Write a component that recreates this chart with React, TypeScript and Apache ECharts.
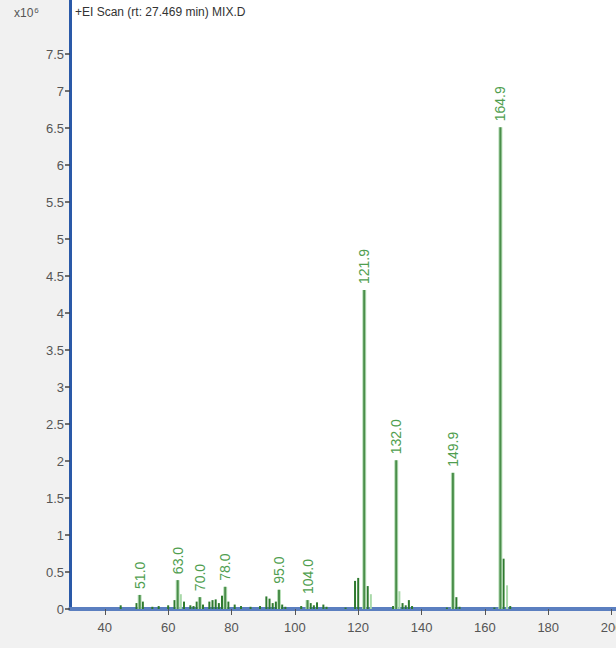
import React, { useEffect, useRef } from "react";
import * as echarts from "echarts";

// labelled peaks (m/z, intensity x10^6)
const labeledMz = [51.0, 63.0, 70.0, 78.0, 95.0, 104.0, 121.9, 132.0, 149.9, 164.9];
const labeledInt = [0.19, 0.39, 0.16, 0.30, 0.26, 0.12, 4.31, 2.01, 1.84, 6.51];

// minor dark peaks
const minorMz = [45, 50, 52, 55, 57, 60, 62, 65, 67, 68, 69, 71, 73, 74, 75, 76, 77, 79, 81, 83, 86, 89, 91, 92, 93, 94, 96, 97, 102, 105, 106, 107, 109, 110, 116, 119, 120, 123, 131, 134, 135, 136, 137, 148, 151, 152, 163, 165.9, 168];
const minorInt = [0.05, 0.08, 0.1, 0.03, 0.04, 0.05, 0.12, 0.1, 0.05, 0.04, 0.1, 0.06, 0.1, 0.12, 0.13, 0.08, 0.18, 0.1, 0.06, 0.04, 0.03, 0.04, 0.17, 0.14, 0.08, 0.1, 0.06, 0.03, 0.04, 0.08, 0.05, 0.09, 0.06, 0.03, 0.02, 0.38, 0.42, 0.31, 0.04, 0.08, 0.05, 0.12, 0.04, 0.02, 0.16, 0.03, 0.02, 0.68, 0.04];

// minor light peaks
const lightMz = [64, 124, 133, 167];
const lightInt = [0.2, 0.2, 0.24, 0.32];

// axis ticks
const xTicks = [40, 60, 80, 100, 120, 140, 160, 180, 200];
const yTicks = [0, 0.5, 1, 1.5, 2, 2.5, 3, 3.5, 4, 4.5, 5, 5.5, 6, 6.5, 7, 7.5];
const yMax = 8.23;

export default function App() {
  const ref = useRef<HTMLDivElement>(null);
  useEffect(() => {
    if (!ref.current) return;
    const chart = echarts.init(ref.current, null, { renderer: "svg" });

    const stem = (w: number, color: string) => (params: any, api: any) => {
      const x = api.value(0);
      const y = api.value(1);
      const top = api.coord([x, y]);
      const base = api.coord([x, 0]);
      return {
        type: "rect",
        shape: { x: top[0] - w / 2, y: top[1], width: w, height: base[1] - top[1] },
        style: { fill: color },
      };
    };

    const labeledRender = (params: any, api: any) => {
      const x = api.value(0);
      const y = api.value(1);
      const top = api.coord([x, y]);
      const base = api.coord([x, 0]);
      return {
        type: "group",
        children: [
          {
            type: "rect",
            shape: { x: top[0] - 2, y: top[1], width: 4, height: base[1] - top[1] },
            style: { fill: "#b9dfb9" },
          },
          {
            type: "rect",
            shape: { x: top[0] - 1, y: top[1], width: 2, height: base[1] - top[1] },
            style: { fill: "#4a8e4a" },
          },
          {
            type: "text",
            x: top[0],
            y: top[1] - 6,
            rotation: Math.PI / 2,
            style: {
              text: x.toFixed(1),
              fill: "#4f9e4f",
              font: "14px 'Liberation Sans', Arial, sans-serif",
              align: "left",
              verticalAlign: "middle",
            },
          },
        ],
      };
    };

    chart.setOption({
      animation: false,
      backgroundColor: "#f1f1f1",
      grid: {
        left: 70,
        right: 0,
        top: 0,
        bottom: 39,
        show: true,
        backgroundColor: "#ffffff",
        borderWidth: 0,
        containLabel: false,
        outerBoundsMode: "none",
      },
      xAxis: {
        type: "value",
        min: 29,
        max: 201.4,
        splitLine: { show: false },
        axisLine: { show: true, onZero: false, lineStyle: { color: "#5b7fc0", width: 4 } },
        axisTick: { show: true, customValues: xTicks, length: 6, lineStyle: { color: "#555", width: 1 } },
        axisLabel: {
          customValues: xTicks,
          color: "#555",
          fontSize: 13,
          fontFamily: "'Liberation Sans', Arial, sans-serif",
          margin: 12,
          hideOverlap: false,
        },
      },
      yAxis: {
        type: "value",
        min: 0,
        max: yMax,
        splitLine: { show: false },
        axisLine: { show: true, lineStyle: { color: "#2a59a8", width: 3 } },
        axisTick: { show: true, customValues: yTicks, length: 5, lineStyle: { color: "#444", width: 1.5 } },
        axisLabel: {
          customValues: yTicks,
          color: "#555",
          fontSize: 13,
          fontFamily: "'Liberation Sans', Arial, sans-serif",
          margin: 6,
          formatter: (v: number) => String(v),
        },
      },
      graphic: [
        {
          type: "text",
          left: 14,
          top: 6,
          style: {
            text: "x10{s|6}",
            fill: "#555",
            font: "12px 'Liberation Sans', Arial, sans-serif",
            rich: { s: { fontSize: 8, verticalAlign: "top", fill: "#555", padding: [0, 0, 6, 1] } },
          },
        },
        {
          type: "text",
          left: 75,
          top: 6,
          style: {
            text: "+EI Scan (rt: 27.469 min) MIX.D",
            fill: "#333",
            font: "12px 'Liberation Sans', Arial, sans-serif",
          },
        },
      ],
      series: [
        {
          type: "custom",
          clip: false,
          encode: { x: 0, y: 1 },
          data: lightMz.map((m, i) => [m, lightInt[i]]),
          renderItem: stem(2, "#a9d9a9"),
        },
        {
          type: "custom",
          clip: false,
          encode: { x: 0, y: 1 },
          data: minorMz.map((m, i) => [m, minorInt[i]]),
          renderItem: stem(2, "#2e7a2e"),
        },
        {
          type: "custom",
          clip: false,
          encode: { x: 0, y: 1 },
          data: labeledMz.map((m, i) => [m, labeledInt[i]]),
          renderItem: labeledRender,
        },
      ],
    });
    return () => chart.dispose();
  }, []);
  return (
    <div
      ref={ref}
      style={{ position: "fixed", left: 0, top: 0, width: 616, height: 648 }}
    />
  );
}
